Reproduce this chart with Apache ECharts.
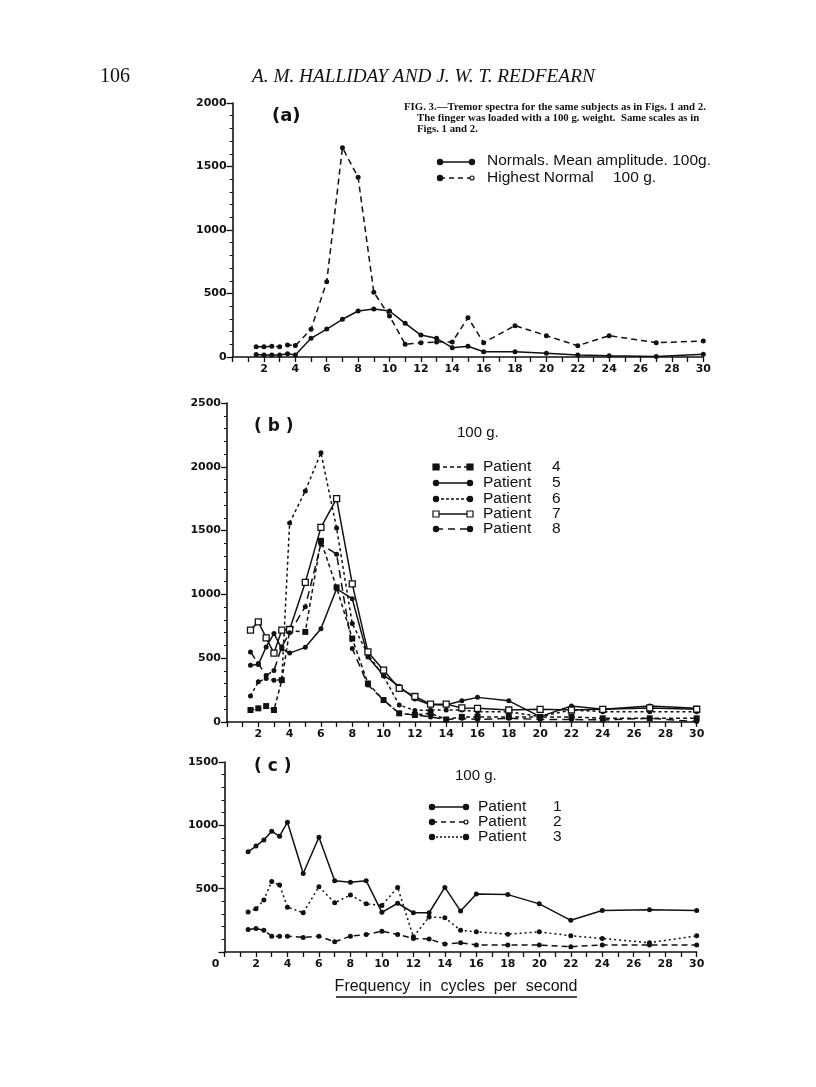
<!DOCTYPE html>
<html>
<head>
<meta charset="utf-8">
<style>
  html, body { margin: 0; background: #fff; }
  #chart { width: 816px; height: 1087px; }
</style>
<script src="https://cdn.jsdelivr.net/npm/echarts@6/dist/echarts.min.js"></script>
</head>
<body>
<div id="chart"></div>
<script>
// frequencies (c/s) at which every curve was sampled
var freq = [1.5, 2, 2.5, 3, 3.5, 4, 5, 6, 7, 8, 9, 10, 11, 12, 13, 14, 15, 16, 18, 20, 22, 24, 27, 30];

// (a) normals, 100 g
var normalsMean   = [20, 15, 15, 15, 25, 15, 147, 220, 297, 362, 378, 362, 265, 173, 147, 73, 84, 42, 42, 29, 16, 10, 3, 21];
var highestNormal = [80, 80, 85, 80, 95, 90, 218, 593, 1648, 1415, 509, 323, 100, 113, 118, 118, 310, 113, 247, 168, 89, 168, 113, 126];

// (b) patients 4-8, 100 g
var patient4 = [94, 107, 125, 94, 328, 716, 706, 1420, 1055, 654, 302, 172, 68, 55, 68, 20, 40, 40, 40, 40, 40, 29, 29, 29];
var patient5 = [445, 450, 588, 693, 575, 540, 585, 730, 1044, 966, 510, 367, 280, 180, 135, 133, 166, 193, 166, 42, 125, 99, 125, 107];
var patient6 = [203, 315, 341, 328, 330, 1560, 1810, 2110, 1520, 771, 530, 360, 133, 90, 94, 94, 94, 81, 81, 42, 94, 81, 81, 81];
var patient7 = [720, 785, 660, 540, 720, 725, 1094, 1525, 1750, 1083, 549, 406, 263, 200, 140, 140, 110, 107, 94, 99, 94, 99, 110, 100];
var patient8 = [549, 458, 365, 404, 590, 700, 903, 1393, 1315, 576, 290, 172, 68, 55, 40, 20, 29, 20, 29, 20, 20, 16, 29, 3];

// (c) patients 1-3, 100 g
var patient1 = [791, 836, 885, 953, 914, 1025, 620, 906, 563, 550, 563, 313, 385, 310, 310, 510, 323, 458, 453, 380, 250, 328, 333, 328];
var patient2 = [177, 185, 172, 125, 125, 125, 115, 125, 81, 125, 138, 164, 138, 107, 102, 63, 73, 55, 55, 55, 42, 55, 55, 55];
var patient3 = [315, 341, 411, 557, 528, 354, 310, 516, 388, 450, 380, 367, 510, 120, 276, 271, 172, 159, 141, 159, 128, 107, 73, 128];

var yTop = [2000, 2500, 1500];

var INK = '#111';
var LETTER = 'Liberation Sans';

function pairs(vals) {
  return freq.map(function (f, i) { return [f, vals[i]]; });
}

function xAxisFor(idx, showZero) {
  return {
    type: 'value', gridIndex: idx, min: 0, max: 30, interval: 1,
    axisLine: { show: true, lineStyle: { color: INK, width: 1.6 } },
    axisTick: { show: true, length: 5, lineStyle: { color: INK, width: 1.3 } },
    splitLine: { show: false },
    axisLabel: {
      color: INK, fontSize: 11, fontWeight: 'bold', fontFamily: 'DejaVu Sans', margin: 7,
      formatter: function (v) {
        if (v === 0) return showZero ? '{z|0}' : '';
        return (v % 2 === 0) ? String(v) : '';
      },
      rich: { z: { fontSize: 11, fontWeight: 'bold', fontFamily: 'DejaVu Sans', color: INK, padding: [0, 18, 0, 0] } }
    }
  };
}

function yAxisFor(idx, max, hideZero) {
  return {
    type: 'value', gridIndex: idx, min: 0, max: max, interval: 500,
    axisLine: { show: true, lineStyle: { color: INK, width: 1.6 } },
    axisTick: { show: true, length: 6, lineStyle: { color: INK, width: 1.3 } },
    minorTick: { show: true, splitNumber: 5, length: 3, lineStyle: { color: INK, width: 1 } },
    splitLine: { show: false },
    axisLabel: {
      color: INK, fontSize: 11, fontWeight: 'bold', fontFamily: 'DejaVu Sans', margin: 6,
      formatter: function (v) { return (hideZero && v === 0) ? '' : String(v); }
    }
  };
}

function line(idx, vals, dash, symbol, open) {
  return {
    type: 'line', xAxisIndex: idx, yAxisIndex: idx, data: pairs(vals),
    symbol: symbol || 'circle', symbolSize: symbol === 'rect' ? 6 : 5,
    lineStyle: { color: INK, width: 1.5, type: dash || 'solid' },
    itemStyle: { color: open ? '#fff' : INK, borderColor: INK, borderWidth: open ? 1.3 : 0 },
    animation: false
  };
}

// legend samples drawn as in the figure: a short line with a mark at each end
function legendRow(out, x1, x2, y, dash, mark, openRight) {
  out.push({ type: 'line', shape: { x1: x1, y1: y, x2: x2, y2: y },
    style: { stroke: INK, lineWidth: 1.5, lineDash: dash || null } });
  [x1, x2].forEach(function (x, k) {
    if (mark === 'rect' || mark === 'openrect') {
      out.push({ type: 'rect', shape: { x: x - 3, y: y - 3, width: 6, height: 6 },
        style: { fill: mark === 'openrect' ? '#fff' : INK, stroke: INK, lineWidth: 1.2 } });
    } else {
      var open = openRight && k === 1;
      out.push({ type: 'circle', shape: { cx: x, cy: y, r: open ? 2 : 2.6 },
        style: { fill: open ? '#fff' : INK, stroke: INK, lineWidth: 1.2 } });
    }
  });
}

function txt(out, x, y, text, font, align) {
  out.push({ type: 'text', x: x, y: y,
    style: { text: text, font: font, fill: INK, align: align || 'left', verticalAlign: 'middle' } });
}

var g = [];
// page header and caption
txt(g, 100, 77, '106', '20px "Liberation Serif"');
txt(g, 252, 77, 'A. M. HALLIDAY AND J. W. T. REDFEARN', 'italic 19.3px "Liberation Serif"');
txt(g, 404, 107, 'FIG. 3.\u2014Tremor spectra for the same subjects as in Figs. 1 and 2.', 'bold 10.8px "Liberation Serif"');
txt(g, 417, 118, 'The finger was loaded with a 100 g. weight.  Same scales as in', 'bold 10.8px "Liberation Serif"');
txt(g, 417, 129, 'Figs. 1 and 2.', 'bold 10.8px "Liberation Serif"');

// panel labels
txt(g, 272, 116, '(a)', 'bold 18px "DejaVu Sans"');
txt(g, 254, 427, '( b )', 'bold 17px "DejaVu Sans"');
txt(g, 254, 767, '( c )', 'bold 17px "DejaVu Sans"');
txt(g, 457, 433, '100 g.', '15px "' + LETTER + '"');
txt(g, 455, 776, '100 g.', '15px "' + LETTER + '"');

// legend (a)
legendRow(g, 440, 472, 162, null, 'circle');
txt(g, 487, 161, 'Normals. Mean amplitude. 100g.', '15.5px "' + LETTER + '"');
legendRow(g, 440, 472, 178, [5, 4], 'circle', true);
txt(g, 487, 178, 'Highest Normal', '15.5px "' + LETTER + '"');
txt(g, 613, 178, '100 g.', '15.5px "' + LETTER + '"');

// legend (b)
var rowsB = [
  [467, [4, 3], 'rect', '4'],
  [483, null, 'circle', '5'],
  [499, [3, 2], 'circle', '6'],
  [514, null, 'openrect', '7'],
  [529, [7, 5], 'circle', '8']
];
rowsB.forEach(function (r) {
  legendRow(g, 436, 470, r[0], r[1], r[2]);
  txt(g, 483, r[0], 'Patient', '15.5px "' + LETTER + '"');
  txt(g, 552, r[0], r[3], '15.5px "' + LETTER + '"');
});

// legend (c)
var rowsC = [
  [807, null, '1'],
  [822, [5, 4], '2'],
  [837, [2, 2], '3']
];
rowsC.forEach(function (r) {
  legendRow(g, 432, 466, r[0], r[1], 'circle', r[2] === '2');
  txt(g, 478, r[0], 'Patient', '15.5px "' + LETTER + '"');
  txt(g, 553, r[0], r[2], '15.5px "' + LETTER + '"');
});

// x-axis title, underlined
txt(g, 456, 987, 'Frequency  in  cycles  per  second', '16px "' + LETTER + '"', 'center');
g.push({ type: 'line', shape: { x1: 336, y1: 997, x2: 577, y2: 997 }, style: { stroke: INK, lineWidth: 1.3 } });

var chart = echarts.init(document.getElementById('chart'), null, { renderer: 'canvas' });
chart.setOption({
  backgroundColor: '#fff',
  animation: false,
  grid: [
    { left: 232.6, right: 112.7, top: 103, bottom: 730, outerBoundsMode: 'none' },
    { left: 227, right: 119.3, top: 403, bottom: 365, outerBoundsMode: 'none' },
    { left: 224.5, right: 119.3, top: 762, bottom: 135, outerBoundsMode: 'none' }
  ],
  xAxis: [xAxisFor(0, false), xAxisFor(1, false), xAxisFor(2, true)],
  yAxis: [yAxisFor(0, yTop[0], false), yAxisFor(1, yTop[1], false), yAxisFor(2, yTop[2], true)],
  series: [
    line(0, normalsMean),
    line(0, highestNormal, [6, 4]),
    line(1, patient4, [4, 3], 'rect'),
    line(1, patient5),
    line(1, patient6, [3, 3]),
    line(1, patient7, 'solid', 'rect', true),
    line(1, patient8, [8, 5]),
    line(2, patient1),
    line(2, patient2, [6, 4]),
    line(2, patient3, [2, 3])
  ],
  graphic: g
});
</script>
</body>
</html>
